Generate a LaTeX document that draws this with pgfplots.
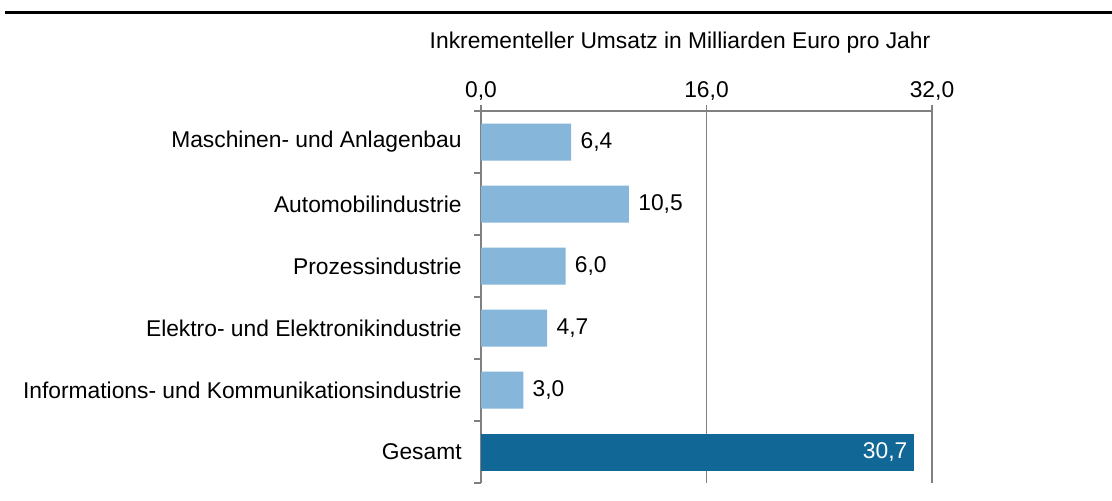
\documentclass[border=0pt]{standalone}
\usepackage{fontspec}
\setmainfont{Liberation Sans}
\usepackage{pgfplots}
\pgfplotsset{compat=1.18}
\definecolor{lightbar}{RGB}{134,182,217}
\definecolor{darkbar}{RGB}{17,103,149}
\definecolor{axgray}{RGB}{128,128,128}
\begin{document}
\begin{tikzpicture}[font=\fontsize{11.4}{13}\selectfont]
\begin{axis}[
  at={(240.5pt,8.5pt)}, anchor=south west,
  scale only axis, width=225.5pt, height=186pt,
  xmin=0, xmax=32, ymin=-0.5, ymax=5.5,
  axis x line*=top, axis y line*=left,
  axis line style={draw=axgray, line width=0.6pt, -},
  xtick={0,16,32},
  xticklabels={{0,0},{16,0},{32,0}},
  tick align=outside,
  major tick length=3pt,
  x tick style={draw=axgray, line width=0.6pt},
  xmajorgrids, grid style={draw=axgray, line width=0.6pt},
  ytick={0,...,5},
  yticklabels={Gesamt, Informations- und Kommunikationsindustrie, Elektro- und Elektronikindustrie, Prozessindustrie, Automobilindustrie, Maschinen- und Anlagenbau},
  major y tick style={draw=none},
  minor ytick={-0.5,0.5,...,5.5},
  minor tick length=3.5pt,
  minor y tick style={draw=axgray, line width=0.6pt},
  yticklabel style={inner sep=0pt, anchor=east, xshift=-6.5pt},
  xticklabel style={inner sep=0pt, anchor=south, yshift=2pt},
  point meta=x,
  nodes near coords={\pgfmathprintnumber[fixed,fixed zerofill,precision=1,use comma,assume math mode=true]{\pgfplotspointmeta}},
]
\addplot[xbar, bar shift=0pt, bar width=18.5pt, fill=lightbar, draw=none,
  every node near coord/.style={anchor=west, inner sep=0pt, xshift=4.5pt}]
  coordinates {(6.4,5) (10.5,4) (6.0,3) (4.7,2) (3.0,1)};
\addplot[xbar, bar shift=0pt, bar width=18.5pt, fill=darkbar, draw=none,
  every node near coord/.style={anchor=east, inner sep=0pt, xshift=-3pt, text=white}]
  coordinates {(30.7,0)};
\end{axis}
\draw[line width=1.5pt] (2.5pt,244pt) -- (556pt,244pt);
\node at (340pt,228.5pt) {Inkrementeller Umsatz in Milliarden Euro pro Jahr};
\pgfresetboundingbox
\useasboundingbox (0,0) rectangle (556pt,250pt);
\end{tikzpicture}
\end{document}
